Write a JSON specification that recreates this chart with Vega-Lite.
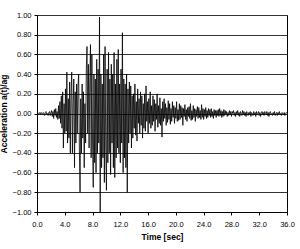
{
"$schema": "https://vega.github.io/schema/vega-lite/v6.json",
"width": 250, "height": 197,
"autosize": {"type": "none"},
"padding": {"left": 37, "top": 15, "right": 13, "bottom": 37},
"background": "white",
"config": {"view": {"stroke": "#000", "strokeWidth": 1}, "font": "Liberation Sans"},
"data": {"values": [
{"t":0.0,"a":0.00},{"t":0.1,"a":0.01},{"t":0.2,"a":-0.01},{"t":0.3,"a":0.00},{"t":0.4,"a":0.01},{"t":0.5,"a":-0.01},{"t":0.6,"a":0.01},{"t":0.7,"a":0.00},{"t":0.8,"a":-0.01},{"t":0.9,"a":0.01},
{"t":1.0,"a":0.00},{"t":1.1,"a":-0.02},{"t":1.2,"a":0.01},{"t":1.3,"a":0.02},{"t":1.4,"a":-0.01},{"t":1.5,"a":0.00},{"t":1.6,"a":-0.02},{"t":1.7,"a":0.01},{"t":1.8,"a":0.02},{"t":1.9,"a":-0.02},
{"t":2.0,"a":0.01},{"t":2.1,"a":0.03},{"t":2.2,"a":-0.03},{"t":2.3,"a":0.02},{"t":2.4,"a":-0.05},{"t":2.5,"a":0.04},{"t":2.6,"a":-0.02},{"t":2.7,"a":0.05},{"t":2.8,"a":-0.04},{"t":2.9,"a":0.02},
{"t":3.0,"a":-0.06},{"t":3.1,"a":0.08},{"t":3.2,"a":-0.05},{"t":3.3,"a":0.12},{"t":3.4,"a":-0.10},{"t":3.5,"a":0.18},{"t":3.6,"a":-0.15},{"t":3.7,"a":0.22},{"t":3.8,"a":-0.35},{"t":3.9,"a":0.10},
{"t":4.0,"a":-0.20},{"t":4.1,"a":0.25},{"t":4.2,"a":-0.18},{"t":4.3,"a":0.42},{"t":4.4,"a":-0.30},{"t":4.5,"a":0.15},{"t":4.6,"a":-0.25},{"t":4.7,"a":0.32},{"t":4.8,"a":-0.40},{"t":4.9,"a":0.20},
{"t":5.0,"a":0.42},{"t":5.1,"a":-0.40},{"t":5.2,"a":0.10},{"t":5.3,"a":0.35},{"t":5.4,"a":-0.55},{"t":5.5,"a":0.22},{"t":5.6,"a":-0.30},{"t":5.7,"a":0.30},{"t":5.8,"a":-0.20},{"t":5.9,"a":0.28},
{"t":6.0,"a":0.40},{"t":6.1,"a":-0.35},{"t":6.2,"a":-0.80},{"t":6.3,"a":0.15},{"t":6.4,"a":-0.40},{"t":6.5,"a":0.30},{"t":6.6,"a":-0.25},{"t":6.7,"a":0.22},{"t":6.8,"a":-0.55},{"t":6.9,"a":0.10},
{"t":7.0,"a":-0.30},{"t":7.1,"a":0.45},{"t":7.2,"a":0.68},{"t":7.3,"a":-0.20},{"t":7.4,"a":0.50},{"t":7.5,"a":-0.35},{"t":7.6,"a":0.30},{"t":7.7,"a":0.70},{"t":7.8,"a":-0.45},{"t":7.9,"a":0.60},
{"t":8.0,"a":-0.30},{"t":8.1,"a":-0.75},{"t":8.2,"a":0.40},{"t":8.3,"a":-0.50},{"t":8.4,"a":0.35},{"t":8.5,"a":-0.60},{"t":8.6,"a":0.55},{"t":8.7,"a":-0.40},{"t":8.8,"a":0.45},{"t":8.9,"a":-0.30},
{"t":9.0,"a":0.98},{"t":9.1,"a":-1.00},{"t":9.2,"a":0.40},{"t":9.3,"a":-0.55},{"t":9.4,"a":0.30},{"t":9.5,"a":-0.45},{"t":9.6,"a":0.60},{"t":9.7,"a":-0.70},{"t":9.8,"a":0.68},{"t":9.9,"a":-0.35},
{"t":10.0,"a":-0.78},{"t":10.1,"a":0.45},{"t":10.2,"a":-0.50},{"t":10.3,"a":0.62},{"t":10.4,"a":-0.40},{"t":10.5,"a":0.35},{"t":10.6,"a":-0.62},{"t":10.7,"a":0.50},{"t":10.8,"a":-0.30},{"t":10.9,"a":0.40},
{"t":11.0,"a":-0.55},{"t":11.1,"a":0.62},{"t":11.2,"a":-0.65},{"t":11.3,"a":0.30},{"t":11.4,"a":-0.45},{"t":11.5,"a":0.55},{"t":11.6,"a":-0.35},{"t":11.7,"a":0.65},{"t":11.8,"a":-0.40},{"t":11.9,"a":0.30},
{"t":12.0,"a":-0.50},{"t":12.1,"a":0.45},{"t":12.2,"a":-0.30},{"t":12.3,"a":0.82},{"t":12.4,"a":-0.60},{"t":12.5,"a":0.35},{"t":12.6,"a":-0.45},{"t":12.7,"a":0.30},{"t":12.8,"a":-0.55},{"t":12.9,"a":0.40},
{"t":13.0,"a":-0.80},{"t":13.1,"a":0.25},{"t":13.2,"a":-0.30},{"t":13.3,"a":0.32},{"t":13.4,"a":-0.20},{"t":13.5,"a":0.28},{"t":13.6,"a":-0.35},{"t":13.7,"a":0.18},{"t":13.8,"a":-0.25},{"t":13.9,"a":0.20},
{"t":14.0,"a":-0.15},{"t":14.1,"a":0.30},{"t":14.2,"a":-0.22},{"t":14.3,"a":0.12},{"t":14.4,"a":-0.28},{"t":14.5,"a":0.25},{"t":14.6,"a":-0.10},{"t":14.7,"a":0.15},{"t":14.8,"a":-0.20},{"t":14.9,"a":0.22},
{"t":15.0,"a":-0.12},{"t":15.1,"a":0.18},{"t":15.2,"a":-0.25},{"t":15.3,"a":0.10},{"t":15.4,"a":-0.15},{"t":15.5,"a":0.20},{"t":15.6,"a":-0.18},{"t":15.7,"a":0.28},{"t":15.8,"a":-0.08},{"t":15.9,"a":0.12},
{"t":16.0,"a":-0.20},{"t":16.1,"a":0.15},{"t":16.2,"a":-0.10},{"t":16.3,"a":0.22},{"t":16.4,"a":-0.15},{"t":16.5,"a":0.08},{"t":16.6,"a":-0.12},{"t":16.7,"a":0.18},{"t":16.8,"a":-0.08},{"t":16.9,"a":0.14},
{"t":17.0,"a":-0.18},{"t":17.1,"a":0.10},{"t":17.2,"a":-0.06},{"t":17.3,"a":0.20},{"t":17.4,"a":-0.14},{"t":17.5,"a":0.08},{"t":17.6,"a":-0.10},{"t":17.7,"a":0.16},{"t":17.8,"a":-0.12},{"t":17.9,"a":0.05},
{"t":18.0,"a":-0.24},{"t":18.1,"a":0.12},{"t":18.2,"a":-0.08},{"t":18.3,"a":0.15},{"t":18.4,"a":-0.05},{"t":18.5,"a":0.10},{"t":18.6,"a":-0.12},{"t":18.7,"a":0.06},{"t":18.8,"a":-0.09},{"t":18.9,"a":0.13},
{"t":19.0,"a":-0.06},{"t":19.1,"a":0.10},{"t":19.2,"a":-0.11},{"t":19.3,"a":0.05},{"t":19.4,"a":-0.08},{"t":19.5,"a":0.12},{"t":19.6,"a":-0.04},{"t":19.7,"a":0.08},{"t":19.8,"a":-0.10},{"t":19.9,"a":0.06},
{"t":20.0,"a":-0.05},{"t":20.1,"a":0.12},{"t":20.2,"a":-0.08},{"t":20.3,"a":0.04},{"t":20.4,"a":-0.07},{"t":20.5,"a":0.10},{"t":20.6,"a":-0.06},{"t":20.7,"a":0.08},{"t":20.8,"a":-0.04},{"t":20.9,"a":0.06},
{"t":21.0,"a":-0.12},{"t":21.1,"a":0.05},{"t":21.2,"a":-0.03},{"t":21.3,"a":0.09},{"t":21.4,"a":-0.06},{"t":21.5,"a":0.04},{"t":21.6,"a":-0.08},{"t":21.7,"a":0.06},{"t":21.8,"a":-0.03},{"t":21.9,"a":0.07},
{"t":22.0,"a":-0.05},{"t":22.1,"a":0.10},{"t":22.2,"a":-0.07},{"t":22.3,"a":0.03},{"t":22.4,"a":-0.06},{"t":22.5,"a":0.08},{"t":22.6,"a":-0.04},{"t":22.7,"a":0.05},{"t":22.8,"a":-0.08},{"t":22.9,"a":0.04},
{"t":23.0,"a":-0.03},{"t":23.1,"a":0.07},{"t":23.2,"a":-0.05},{"t":23.3,"a":0.06},{"t":23.4,"a":-0.04},{"t":23.5,"a":0.03},{"t":23.6,"a":-0.06},{"t":23.7,"a":0.09},{"t":23.8,"a":-0.04},{"t":23.9,"a":0.05},
{"t":24.0,"a":-0.06},{"t":24.1,"a":0.04},{"t":24.2,"a":-0.03},{"t":24.3,"a":0.06},{"t":24.4,"a":-0.05},{"t":24.5,"a":0.03},{"t":24.6,"a":-0.04},{"t":24.7,"a":0.05},{"t":24.8,"a":-0.02},{"t":24.9,"a":0.04},
{"t":25.0,"a":-0.04},{"t":25.1,"a":0.05},{"t":25.2,"a":-0.03},{"t":25.3,"a":0.02},{"t":25.4,"a":-0.05},{"t":25.5,"a":0.04},{"t":25.6,"a":-0.02},{"t":25.7,"a":0.03},{"t":25.8,"a":-0.04},{"t":25.9,"a":0.03},
{"t":26.0,"a":-0.02},{"t":26.1,"a":0.04},{"t":26.2,"a":-0.03},{"t":26.3,"a":0.05},{"t":26.4,"a":-0.02},{"t":26.5,"a":0.03},{"t":26.6,"a":-0.04},{"t":26.7,"a":0.02},{"t":26.8,"a":-0.03},{"t":26.9,"a":0.04},
{"t":27.0,"a":-0.02},{"t":27.1,"a":0.03},{"t":27.2,"a":-0.01},{"t":27.3,"a":0.02},{"t":27.4,"a":-0.03},{"t":27.5,"a":0.01},{"t":27.6,"a":-0.02},{"t":27.7,"a":0.03},{"t":27.8,"a":-0.01},{"t":27.9,"a":0.02},
{"t":28.0,"a":-0.03},{"t":28.1,"a":0.02},{"t":28.2,"a":0.00},{"t":28.3,"a":0.03},{"t":28.4,"a":-0.02},{"t":28.5,"a":0.01},{"t":28.6,"a":-0.03},{"t":28.7,"a":0.02},{"t":28.8,"a":-0.01},{"t":28.9,"a":0.03},
{"t":29.0,"a":-0.02},{"t":29.1,"a":0.01},{"t":29.2,"a":-0.03},{"t":29.3,"a":0.02},{"t":29.4,"a":0.00},{"t":29.5,"a":-0.02},{"t":29.6,"a":0.03},{"t":29.7,"a":-0.01},{"t":29.8,"a":0.02},{"t":29.9,"a":-0.02},
{"t":30.0,"a":0.01},{"t":30.1,"a":-0.03},{"t":30.2,"a":0.02},{"t":30.3,"a":0.00},{"t":30.4,"a":-0.02},{"t":30.5,"a":0.01},{"t":30.6,"a":-0.01},{"t":30.7,"a":0.02},{"t":30.8,"a":-0.03},{"t":30.9,"a":0.01},
{"t":31.0,"a":0.00},{"t":31.1,"a":-0.02},{"t":31.2,"a":0.02},{"t":31.3,"a":-0.01},{"t":31.4,"a":0.01},{"t":31.5,"a":-0.03},{"t":31.6,"a":0.02},{"t":31.7,"a":-0.01},{"t":31.8,"a":0.00},{"t":31.9,"a":0.02},
{"t":32.0,"a":-0.02},{"t":32.1,"a":0.01},{"t":32.2,"a":-0.03},{"t":32.3,"a":0.00},{"t":32.4,"a":0.02},{"t":32.5,"a":-0.01},{"t":32.6,"a":0.01},{"t":32.7,"a":-0.02},{"t":32.8,"a":0.02},{"t":32.9,"a":0.00},
{"t":33.0,"a":-0.01},{"t":33.1,"a":0.02},{"t":33.2,"a":-0.02},{"t":33.3,"a":0.01},{"t":33.4,"a":-0.03},{"t":33.5,"a":0.01},{"t":33.6,"a":0.02},{"t":33.7,"a":-0.01},{"t":33.8,"a":0.00},{"t":33.9,"a":-0.02},
{"t":34.0,"a":0.01},{"t":34.1,"a":-0.01},{"t":34.2,"a":0.02},{"t":34.3,"a":-0.02},{"t":34.4,"a":0.00},{"t":34.5,"a":0.01},{"t":34.6,"a":-0.02},{"t":34.7,"a":0.01},{"t":34.8,"a":-0.01},{"t":34.9,"a":0.02},
{"t":35.0,"a":-0.01},{"t":35.1,"a":0.00},{"t":35.2,"a":-0.02},{"t":35.3,"a":0.01},{"t":35.4,"a":0.00},{"t":35.5,"a":-0.01},{"t":35.6,"a":0.01},{"t":35.7,"a":-0.02},{"t":35.8,"a":0.00},{"t":35.9,"a":0.01},
{"t":36.0,"a":0.00}
]},
"mark": {"type": "line", "color": "#000", "strokeWidth": 0.8, "clip": true},
"encoding": {
  "x": {"field": "t", "type": "quantitative",
    "scale": {"domain": [0, 36], "nice": false, "zero": false},
    "axis": {"values": [0,4,8,12,16,20,24,28,32,36], "format": ".1f", "grid": false,
      "title": "Time [sec]", "titleFont": "Liberation Sans", "titleFontSize": 8.5, "titleFontWeight": "bold", "titleColor": "#000", "titlePadding": 5,
      "labelFont": "Liberation Sans", "labelFontSize": 7.5, "labelColor": "#000", "labelPadding": 5,
      "domainColor": "#000", "tickColor": "#000", "tickSize": 3, "labelFlush": false}},
  "y": {"field": "a", "type": "quantitative",
    "scale": {"domain": [-1, 1], "nice": false},
    "axis": {"values": [-1,-0.8,-0.6,-0.4,-0.2,0,0.2,0.4,0.6,0.8,1], "format": ".2f", "grid": true, "gridColor": "#333", "gridWidth": 1, "gridOpacity": 1,
      "title": "Acceleration  a(t)/ag", "titleFont": "Liberation Sans", "titleFontSize": 8.5, "titleFontWeight": "bold", "titleColor": "#000", "titlePadding": 4,
      "labelFont": "Liberation Sans", "labelFontSize": 7.5, "labelColor": "#000", "labelPadding": 3,
      "domainColor": "#000", "tickColor": "#000", "tickSize": 3}}
}
}
